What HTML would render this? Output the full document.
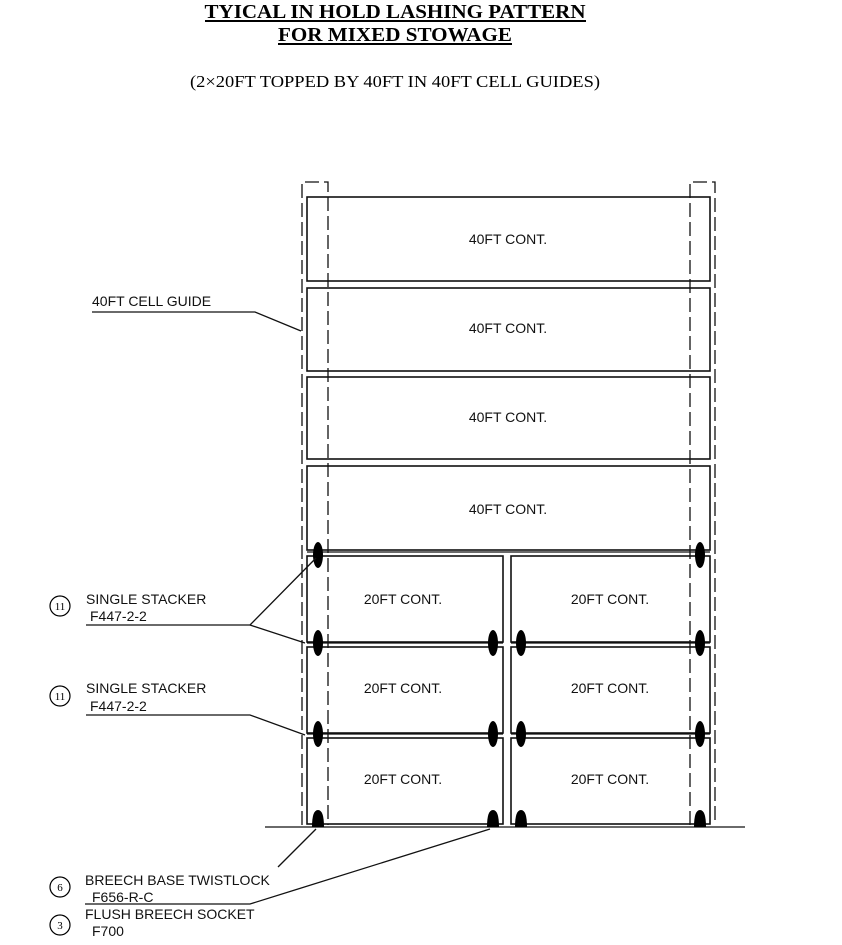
<!DOCTYPE html>
<html><head><meta charset="utf-8"><style>
html,body{margin:0;padding:0;background:#fff;}
svg{display:block;}
.s{font-family:"Liberation Sans",sans-serif;font-size:14px;fill:#111;}
.t{font-family:"Liberation Serif",serif;font-weight:bold;font-size:20px;fill:#000;}
.u{font-family:"Liberation Serif",serif;font-size:17px;fill:#000;}
.c{font-family:"Liberation Serif",serif;font-size:11px;fill:#000;}
</style></head><body>
<svg width="842" height="945" viewBox="0 0 842 945" xmlns="http://www.w3.org/2000/svg">
<text class="t" x="395" y="18" text-anchor="middle" textLength="381" lengthAdjust="spacingAndGlyphs">TYICAL IN HOLD LASHING PATTERN</text>
<line x1="205" y1="21" x2="586" y2="21" stroke="#000" stroke-width="2"/>
<text class="t" x="395" y="41" text-anchor="middle" textLength="234" lengthAdjust="spacingAndGlyphs">FOR MIXED STOWAGE</text>
<line x1="278" y1="44" x2="512" y2="44" stroke="#000" stroke-width="2"/>
<text class="u" x="395" y="87" text-anchor="middle" textLength="410" lengthAdjust="spacingAndGlyphs">(2×20FT TOPPED BY 40FT IN 40FT CELL GUIDES)</text>

<g stroke="#111" stroke-width="1.6" fill="none">
<rect x="307" y="197" width="403" height="84"/>
<rect x="307" y="288" width="403" height="83"/>
<rect x="307" y="377" width="403" height="82"/>
<rect x="307" y="466" width="403" height="84"/>
<rect x="307" y="556" width="196" height="86"/>
<rect x="511" y="556" width="199" height="86"/>
<rect x="307" y="647" width="196" height="86"/>
<rect x="511" y="647" width="199" height="86"/>
<rect x="307" y="738" width="196" height="86"/>
<rect x="511" y="738" width="199" height="86"/>
</g>

<g stroke="#111" stroke-width="1.3" fill="none" stroke-dasharray="14,5">
<path d="M302,825 V182 H328 V825"/>
<path d="M690,825 V182 H715 V825"/>
</g>

<g stroke="#111" stroke-width="1.3">
<line x1="307" y1="552" x2="710" y2="552"/>
<line x1="307" y1="643" x2="503" y2="643"/><line x1="511" y1="643" x2="710" y2="643"/>
<line x1="307" y1="734" x2="503" y2="734"/><line x1="511" y1="734" x2="710" y2="734"/>
<line x1="265" y1="827" x2="745" y2="827"/>
</g>

<g class="s" text-anchor="middle">
<text x="508" y="244">40FT CONT.</text>
<text x="508" y="333">40FT CONT.</text>
<text x="508" y="422">40FT CONT.</text>
<text x="508" y="514">40FT CONT.</text>
<text x="403" y="604">20FT CONT.</text>
<text x="610" y="604">20FT CONT.</text>
<text x="403" y="693">20FT CONT.</text>
<text x="610" y="693">20FT CONT.</text>
<text x="403" y="784">20FT CONT.</text>
<text x="610" y="784">20FT CONT.</text>
</g>

<g fill="#000">
<ellipse cx="318" cy="555" rx="5" ry="13"/><ellipse cx="700" cy="555" rx="5" ry="13"/>
<ellipse cx="318" cy="643" rx="5" ry="13"/><ellipse cx="493" cy="643" rx="5" ry="13"/><ellipse cx="521" cy="643" rx="5" ry="13"/><ellipse cx="700" cy="643" rx="5" ry="13"/>
<ellipse cx="318" cy="734" rx="5" ry="13"/><ellipse cx="493" cy="734" rx="5" ry="13"/><ellipse cx="521" cy="734" rx="5" ry="13"/><ellipse cx="700" cy="734" rx="5" ry="13"/>
<path d="M312,827 Q312,810 318,810 Q324,810 324,827Z"/>
<path d="M487,827 Q487,810 493,810 Q499,810 499,827Z"/>
<path d="M515,827 Q515,810 521,810 Q527,810 527,827Z"/>
<path d="M694,827 Q694,810 700,810 Q706,810 706,827Z"/>
</g>

<g stroke="#111" stroke-width="1.3" fill="none">
<polyline points="92,312 255,312 301,331"/>
<polyline points="86,625 250,625 316,558"/>
<line x1="250" y1="625" x2="305" y2="643"/>
<polyline points="86,715 250,715 305,735"/>
<line x1="278" y1="867" x2="316" y2="829"/>
<polyline points="85,904 250,904 490,829"/>
</g>

<text class="s" x="92" y="306">40FT CELL GUIDE</text>
<circle cx="60" cy="606" r="10" fill="none" stroke="#000" stroke-width="1.2"/>
<text class="c" x="60" y="610" text-anchor="middle">11</text>
<text class="s" x="86" y="604">SINGLE STACKER</text>
<text class="s" x="90" y="621">F447-2-2</text>
<circle cx="60" cy="696" r="10" fill="none" stroke="#000" stroke-width="1.2"/>
<text class="c" x="60" y="700" text-anchor="middle">11</text>
<text class="s" x="86" y="693">SINGLE STACKER</text>
<text class="s" x="90" y="711">F447-2-2</text>
<circle cx="60" cy="887" r="10" fill="none" stroke="#000" stroke-width="1.2"/>
<text class="c" x="60" y="891" text-anchor="middle">6</text>
<text class="s" x="85" y="885">BREECH BASE TWISTLOCK</text>
<text class="s" x="92" y="902">F656-R-C</text>
<circle cx="60" cy="925" r="10" fill="none" stroke="#000" stroke-width="1.2"/>
<text class="c" x="60" y="929" text-anchor="middle">3</text>
<text class="s" x="85" y="919">FLUSH BREECH SOCKET</text>
<text class="s" x="92" y="936">F700</text>
</svg>
</body></html>
